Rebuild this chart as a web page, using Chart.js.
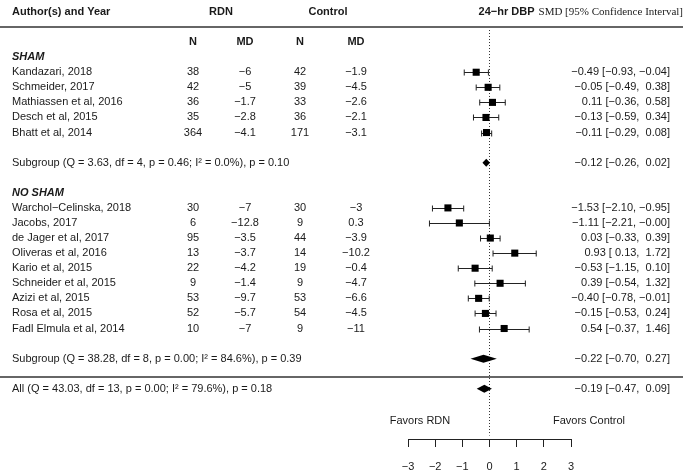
<!DOCTYPE html>
<html>
<head>
<meta charset="utf-8">
<script src="https://cdn.jsdelivr.net/npm/chart.js@4.4.1/dist/chart.umd.min.js"></script>
<style>
  html, body { margin: 0; padding: 0; background: #fff; }
  #grafico { display: block; }
</style>
</head>
<body>
<canvas id="grafico" width="685" height="471"></canvas>
<script>
// estudios, en el orden de la figura
const autores = ['Kandazari, 2018', 'Schmeider, 2017', 'Mathiassen et al, 2016', 'Desch et al, 2015', 'Bhatt et al, 2014',
    'Warchol−Celinska, 2018', 'Jacobs, 2017', 'de Jager et al, 2017', 'Oliveras et al, 2016', 'Kario et al, 2015',
    'Schneider et al, 2015', 'Azizi et al, 2015', 'Rosa et al, 2015', 'Fadl Elmula et al, 2014']
const grupo = ['SHAM', 'SHAM', 'SHAM', 'SHAM', 'SHAM',
    'NO SHAM', 'NO SHAM', 'NO SHAM', 'NO SHAM', 'NO SHAM', 'NO SHAM', 'NO SHAM', 'NO SHAM', 'NO SHAM']
const nRdn = [38, 42, 36, 35, 364, 30, 6, 95, 13, 22, 9, 53, 52, 10]
const mdRdn = ['−6', '−5', '−1.7', '−2.8', '−4.1', '−7', '−12.8', '−3.5', '−3.7', '−4.2', '−1.4', '−9.7', '−5.7', '−7']
const nCtrl = [42, 39, 33, 36, 171, 30, 9, 44, 14, 19, 9, 53, 54, 9]
const mdCtrl = ['−1.9', '−4.5', '−2.6', '−2.1', '−3.1', '−3', '0.3', '−3.9', '−10.2', '−0.4', '−4.7', '−6.6', '−4.5', '−11']
const smd = [-0.49, -0.05, 0.11, -0.13, -0.11, -1.53, -1.11, 0.03, 0.93, -0.53, 0.39, -0.40, -0.15, 0.54]
const ciInf = [-0.93, -0.49, -0.36, -0.59, -0.29, -2.10, -2.21, -0.33, 0.13, -1.15, -0.54, -0.78, -0.53, -0.37]
const ciSup = [-0.04, 0.38, 0.58, 0.34, 0.08, -0.95, -0.004, 0.39, 1.72, 0.10, 1.32, -0.01, 0.24, 1.46]

// subgrupos y total
const grupos = ['SHAM', 'NO SHAM']
const subgrupoTexto = ['Subgroup (Q = 3.63, df = 4, p = 0.46; I² = 0.0%), p = 0.10',
    'Subgroup (Q = 38.28, df = 8, p = 0.00; I² = 84.6%), p = 0.39']
const subgrupoSmd = [-0.12, -0.22]
const subgrupoInf = [-0.26, -0.70]
const subgrupoSup = [0.02, 0.27]
const totalTexto = 'All (Q = 43.03, df = 13, p = 0.00; I² = 79.6%), p = 0.18'
const totalSmd = -0.19
const totalInf = -0.47
const totalSup = 0.09

const ticksX = [-3, -2, -1, 0, 1, 2, 3]

const FUENTE = '"Liberation Sans", Arial, sans-serif'
const TINTA = '#1a1a1a'

// filas: 0 encabezado, 1 regla, 2 N/MD, luego grupos
const filas = []
const filaGrupo = []
const filaSubgrupo = []
let fila = 3
grupos.forEach((g) => {
    filaGrupo.push(fila)
    fila++
    autores.forEach((a, i) => {
        if (grupo[i] === g) {
            filas[i] = fila
            fila++
        }
    })
    fila++
    filaSubgrupo.push(fila)
    fila += 2
})
const filaTotal = fila
const filaLinea = fila - 0.8

const num = (v) => {
    const s = Math.abs(v).toFixed(2)
    return v < 0 ? '−' + s : s
}
const intervalo = (e, lo, hi) => {
    const f = (v) => (v < 0 ? num(v) : ' ' + num(v))
    return `${num(e)} [${f(lo)}, ${f(hi)}]`
}

const forestPlugin = {
    id: 'forest',
    beforeDatasetsDraw(chart) {
        const ctx = chart.ctx
        const px = (v) => chart.scales.x.getPixelForValue(v)
        const py = (v) => chart.scales.y.getPixelForValue(v)
        ctx.save()
        ctx.strokeStyle = '#222'
        ctx.lineWidth = 1
        smd.forEach((e, i) => {
            const y = Math.round(py(filas[i])) + 0.5
            const x1 = px(ciInf[i])
            const x2 = px(ciSup[i])
            ctx.beginPath()
            ctx.moveTo(x1, y)
            ctx.lineTo(x2, y)
            ctx.moveTo(x1, y - 3)
            ctx.lineTo(x1, y + 3)
            ctx.moveTo(x2, y - 3)
            ctx.lineTo(x2, y + 3)
            ctx.stroke()
        })
        ctx.restore()
    },
    afterDatasetsDraw(chart) {
        const ctx = chart.ctx
        const px = (v) => chart.scales.x.getPixelForValue(v)
        const py = (v) => chart.scales.y.getPixelForValue(v)
        const area = chart.chartArea
        ctx.save()

        // rombos
        const rombo = (e, lo, hi, f) => {
            const y = py(f)
            ctx.beginPath()
            ctx.moveTo(px(lo), y)
            ctx.lineTo(px(e), y - 4)
            ctx.lineTo(px(hi), y)
            ctx.lineTo(px(e), y + 4)
            ctx.closePath()
            ctx.fillStyle = '#000'
            ctx.fill()
        }
        subgrupoSmd.forEach((e, k) => rombo(e, subgrupoInf[k], subgrupoSup[k], filaSubgrupo[k]))
        rombo(totalSmd, totalInf, totalSup, filaTotal)

        // reglas horizontales
        ctx.strokeStyle = '#333'
        ctx.lineWidth = 1.5
        ;[1, filaLinea].forEach((f) => {
            const y = Math.round(py(f))
            ctx.beginPath()
            ctx.moveTo(0, y)
            ctx.lineTo(683, y)
            ctx.stroke()
        })

        ctx.fillStyle = TINTA
        ctx.textBaseline = 'middle'
        const texto = (t, x, f, alin, peso) => {
            ctx.font = `${peso || ''} 11px ${FUENTE}`
            ctx.textAlign = alin
            ctx.fillText(t, x, py(f))
        }

        // encabezados
        texto('Author(s) and Year', 12, 0, 'left', 'bold')
        texto('RDN', 221, 0, 'center', 'bold')
        texto('Control', 328, 0, 'center', 'bold')
        ctx.font = `11px "Liberation Serif", "Times New Roman", serif`
        ctx.textAlign = 'right'
        ctx.fillText('SMD [95% Confidence Interval]', 683, py(0))
        const anchoSmd = ctx.measureText('SMD [95% Confidence Interval]').width
        texto('24−hr DBP', 683 - anchoSmd - 4, 0, 'right', 'bold')
        texto('N', 193, 2, 'center', 'bold')
        texto('MD', 245, 2, 'center', 'bold')
        texto('N', 300, 2, 'center', 'bold')
        texto('MD', 356, 2, 'center', 'bold')

        grupos.forEach((g, k) => {
            texto(g, 12, filaGrupo[k], 'left', 'italic bold')
            texto(subgrupoTexto[k], 12, filaSubgrupo[k], 'left')
            texto(intervalo(subgrupoSmd[k], subgrupoInf[k], subgrupoSup[k]), 670, filaSubgrupo[k], 'right')
        })

        autores.forEach((a, i) => {
            texto(a, 12, filas[i], 'left')
            texto(String(nRdn[i]), 193, filas[i], 'center')
            texto(mdRdn[i], 245, filas[i], 'center')
            texto(String(nCtrl[i]), 300, filas[i], 'center')
            texto(mdCtrl[i], 356, filas[i], 'center')
            texto(intervalo(smd[i], ciInf[i], ciSup[i]), 670, filas[i], 'right')
        })

        texto(totalTexto, 12, filaTotal, 'left')
        texto(intervalo(totalSmd, totalInf, totalSup), 670, filaTotal, 'right')

        // etiquetas de direccion
        ctx.font = `11px ${FUENTE}`
        ctx.textAlign = 'center'
        ctx.fillText('Favors RDN', 420, area.bottom - 18)
        ctx.fillText('Favors Control', 589, area.bottom - 18)
        ctx.restore()
    }
}

const puntos = smd.map((e, i) => ({ x: e, y: filas[i] }))

new Chart(document.getElementById('grafico'), {
    type: 'scatter',
    data: {
        datasets: [
            {
                data: puntos,
                pointStyle: 'rect',
                pointRadius: 5,
                backgroundColor: '#000',
                borderColor: '#000',
                borderWidth: 0
            },
            {
                data: [{ x: 0, y: 1.2 }, { x: 0, y: 28.1 }],
                showLine: true,
                pointRadius: 0,
                borderColor: '#333',
                borderWidth: 1,
                borderDash: [1, 2]
            }
        ]
    },
    options: {
        responsive: false,
        animation: false,
        layout: { padding: { left: 408, right: 114, top: 0, bottom: 0 } },
        plugins: { legend: { display: false }, tooltip: { enabled: false } },
        scales: {
            x: {
                type: 'linear',
                min: -3,
                max: 3,
                afterBuildTicks: (escala) => { escala.ticks = ticksX.map((v) => ({ value: v })) },
                afterFit: (escala) => { escala.height = 32 },
                grid: { display: true, drawOnChartArea: false, drawTicks: true, tickLength: 8, color: '#222', lineWidth: 1 },
                border: { display: true, color: '#222', width: 1 },
                ticks: {
                    padding: 13,
                    color: TINTA,
                    font: { family: FUENTE, size: 11 },
                    maxRotation: 0,
                    callback: (v) => String(v).replace('-', '−')
                }
            },
            y: {
                type: 'linear',
                display: false,
                reverse: true,
                min: -0.46,
                max: 28.33
            }
        }
    },
    plugins: [forestPlugin]
})
</script>
</body>
</html>
